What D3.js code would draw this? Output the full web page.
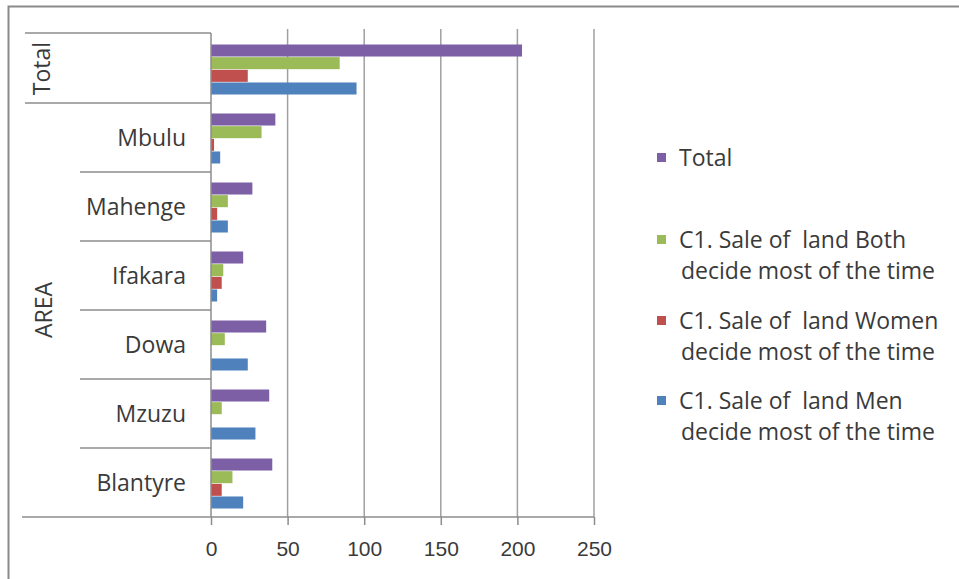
<!DOCTYPE html>
<html>
<head>
<meta charset="utf-8">
<script src="https://cdn.jsdelivr.net/npm/d3@7"></script>
<style>
  body { margin: 0; background: #fff; }
  svg { font-family: "Open Sans", sans-serif; }
</style>
</head>
<body>
<svg id="chart" width="959" height="579"></svg>
<script>
// categories top to bottom
const areas = ["Total", "Mbulu", "Mahenge", "Ifakara", "Dowa", "Mzuzu", "Blantyre"];
const seriesNames = [
  "Total",
  "C1. Sale of  land Both decide most of the time",
  "C1. Sale of  land Women decide most of the time",
  "C1. Sale of  land Men decide most of the time"
];
const totalVals = [203, 42, 27, 21, 36, 38, 40];
const bothVals  = [84, 33, 11, 8, 9, 7, 14];
const womenVals = [24, 2, 4, 7, 0, 0, 7];
const menVals   = [95, 6, 11, 4, 24, 29, 21];
const xTicks = [0, 50, 100, 150, 200, 250];

const colors = ["#7d5fa6", "#9bbb59", "#c0504d", "#4f81bd"];
const values = [totalVals, bothVals, womenVals, menVals];

const svg = d3.select("#chart");

// outer frame
svg.append("path")
  .attr("d", "M8.5,579 V6.5 H959")
  .attr("fill", "none")
  .attr("stroke", "#8a8a8a")
  .attr("stroke-width", 2);

const x = d3.scaleLinear().domain([0, 250]).range([211, 594]);
const y = d3.scaleBand().domain(areas).range([34, 517]);
const yInner = d3.scaleBand().domain(d3.range(4)).range([0, y.bandwidth()]).paddingOuter(0.75).paddingInner(0.05);

// grid lines
svg.append("g").selectAll("line")
  .data(xTicks.slice(1))
  .enter().append("line")
  .attr("x1", d => x(d)).attr("x2", d => x(d))
  .attr("y1", 29).attr("y2", 517)
  .attr("stroke", "#a0a0a0").attr("stroke-width", 1.5);

// bars
const rows = areas.map((a, i) => ({ area: a, vals: values.map(v => v[i]) }));
const grp = svg.append("g").selectAll("g")
  .data(rows)
  .enter().append("g")
  .attr("transform", d => `translate(0,${y(d.area) + 1})`);

grp.selectAll("rect")
  .data(d => d.vals.map((v, k) => ({ k: k, v: v })))
  .enter().append("rect")
  .attr("x", x(0))
  .attr("y", d => yInner(d.k))
  .attr("width", d => x(d.v) - x(0))
  .attr("height", yInner.bandwidth())
  .attr("fill", d => colors[d.k]);

// x axis
const xAxis = svg.append("g")
  .attr("transform", "translate(0,517)")
  .call(d3.axisBottom(x).tickValues(xTicks).tickSize(8).tickSizeOuter(0).tickPadding(16));
xAxis.select(".domain").remove();
xAxis.selectAll("line").attr("stroke", "#8c8c8c").attr("stroke-width", 1.5);
xAxis.selectAll("text").attr("font-size", 21).attr("fill", "#3a3a3a").style("font-family", "inherit");

// bottom line and vertical axis
svg.append("line")
  .attr("x1", 22).attr("x2", 594).attr("y1", 517).attr("y2", 517)
  .attr("stroke", "#8c8c8c").attr("stroke-width", 1.5);
svg.append("line")
  .attr("x1", x(0)).attr("x2", x(0)).attr("y1", 33).attr("y2", 517)
  .attr("stroke", "#8c8c8c").attr("stroke-width", 1.5);

// left category labels (multi-level)
const sub = areas.slice(1);
svg.append("g").selectAll("line")
  .data(sub.slice(1))
  .enter().append("line")
  .attr("x1", 80).attr("x2", x(0))
  .attr("y1", d => y(d)).attr("y2", d => y(d))
  .attr("stroke", "#8c8c8c").attr("stroke-width", 1.5);

svg.append("g").selectAll("line")
  .data([y("Total") - 1, y("Mbulu")])
  .enter().append("line")
  .attr("x1", 25).attr("x2", x(0))
  .attr("y1", d => d).attr("y2", d => d)
  .attr("stroke", "#8c8c8c").attr("stroke-width", 1.5);

svg.append("g").selectAll("text")
  .data(sub)
  .enter().append("text")
  .attr("x", 186)
  .attr("y", d => y(d) + y.bandwidth() / 2)
  .attr("dy", "0.35em")
  .attr("text-anchor", "end")
  .attr("font-size", 23)
  .attr("fill", "#3a3a3a")
  .text(d => d);

svg.append("text")
  .attr("transform", `translate(42,${y("Total") + y.bandwidth() / 2}) rotate(-90)`)
  .attr("dy", "0.35em")
  .attr("text-anchor", "middle")
  .attr("font-size", 23)
  .attr("fill", "#3a3a3a")
  .text("Total");

svg.append("text")
  .attr("transform", `translate(44,${(y("Mbulu") + 517) / 2}) rotate(-90)`)
  .attr("dy", "0.35em")
  .attr("text-anchor", "middle")
  .attr("font-size", 23)
  .attr("fill", "#3a3a3a")
  .text("AREA");

// legend
const legendY = [158, 240, 321, 401];
const legend = svg.append("g");
seriesNames.forEach((name, i) => {
  legend.append("rect")
    .attr("x", 657).attr("y", legendY[i] - 5)
    .attr("width", 9).attr("height", 9)
    .attr("fill", colors[i]);
  const lines = i === 0 ? [name] : [name.replace(/ decide.*/, ""), "decide most of the time"];
  lines.forEach((t, j) => {
    legend.append("text")
      .attr("x", j ? 681 : 679)
      .attr("y", legendY[i] + j * 31)
      .attr("dy", "0.35em")
      .attr("font-size", 23)
      .attr("fill", "#3a3a3a")
      .style("white-space", "pre")
      .text(t);
  });
});
</script>
</body>
</html>
